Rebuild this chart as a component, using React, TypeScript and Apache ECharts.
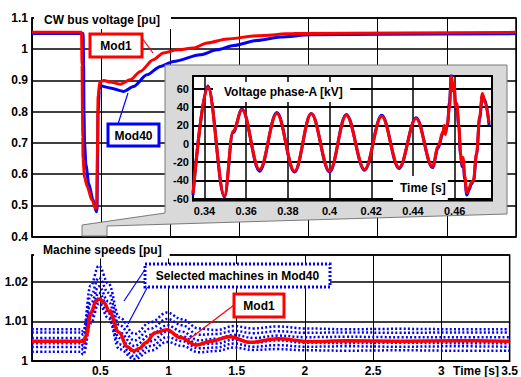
import React, { useEffect, useRef } from 'react';
import * as echarts from 'echarts';

// ---- CW bus voltage [pu] ----
const voltTimeMod1 = [0, 0.358, 0.362, 0.365, 0.367, 0.369, 0.38, 0.4, 0.433, 0.462, 0.468, 0.472, 0.478, 0.49, 0.52, 0.565, 0.638, 0.71, 0.783, 0.877, 0.949, 1.049, 1.167, 1.266, 1.411, 1.628, 1.891, 2.67, 3.5];
const voltMod1 = [1.054, 1.054, 0.95, 0.8, 0.72, 0.65, 0.59, 0.56, 0.518, 0.49, 0.5, 0.65, 0.85, 0.895, 0.9, 0.895, 0.888, 0.902, 0.929, 0.966, 0.988, 0.998, 1.004, 1.02, 1.033, 1.043, 1.05, 1.052, 1.054];
const voltTimeMod40 = [0, 0.37, 0.373, 0.376, 0.38, 0.39, 0.41, 0.44, 0.465, 0.47, 0.473, 0.478, 0.487, 0.493, 0.565, 0.662, 0.734, 0.831, 0.928, 1.024, 1.217, 1.338, 1.459, 1.628, 1.797, 2.014, 2.5, 3.5];
const voltMod40 = [1.05, 1.05, 0.95, 0.8, 0.7, 0.63, 0.57, 0.52, 0.48, 0.485, 0.6, 0.8, 0.87, 0.883, 0.876, 0.865, 0.881, 0.918, 0.945, 0.961, 0.982, 0.998, 1.012, 1.028, 1.039, 1.046, 1.048, 1.05];

// ---- Voltage phase-A [kV] (inset) ----
const phaseTime = [0.3345, 0.3416, 0.3496, 0.3537, 0.358, 0.3664, 0.3747, 0.3832, 0.3912, 0.4, 0.408, 0.4168, 0.425, 0.4333, 0.4415, 0.4494, 0.452, 0.4545, 0.455, 0.4555, 0.4565, 0.4575, 0.4584, 0.459, 0.4597, 0.4605, 0.461, 0.462, 0.4628, 0.4635, 0.464, 0.4648, 0.4658, 0.467, 0.468, 0.469, 0.4705, 0.472, 0.4733, 0.4745, 0.4765];
const phaseMod1 = [-54, 62, -57, 14, 37, -28, 33, -30, 33, -30, 31, -28, 30, -26, 27.5, -25, -3, 14, 20, 10, 22, 40, 74, 58, 66, 40, 44, 20, -10, -22, -15, -35, -53.5, -48, -42, -40, -10, 30, 55, 45, 23];
const phaseMod40 = [-56, 63, -58, 12, 38, -30, 34, -31, 33, -31, 32, -29, 31, -27, 28.5, -26, -5, 12, 18, 12, 20, 45, 76, 60, 64, 38, 42, 18, -12, -25, -18, -38, -56, -50, -44, -41, -12, 28, 53, 48, 20];
const phaseXTicks = [0.34, 0.36, 0.38, 0.4, 0.42, 0.44, 0.46];
const phaseYTicks = [-60, -40, -20, 0, 20, 40, 60];

// ---- Machine speeds [pu] ----
const speedTimeMod1 = [0, 0.365, 0.38, 0.396, 0.432, 0.469, 0.493, 0.53, 0.565, 0.638, 0.698, 0.746, 0.79, 0.831, 0.903, 0.988, 1.085, 1.205, 1.314, 1.45, 1.6, 1.8, 2.04, 2.3, 2.7, 3.1, 3.5];
const speedMod1 = [1.005, 1.005, 1.0048, 1.0063, 1.0121, 1.0152, 1.0156, 1.0147, 1.0125, 1.0072, 1.0036, 1.0025, 1.0032, 1.0046, 1.0071, 1.0079, 1.0059, 1.004, 1.005, 1.0061, 1.0047, 1.0056, 1.0049, 1.0051, 1.005, 1.0051, 1.005];
const speedTimeMod40 = [0, 0.36, 0.375, 0.43, 0.49, 0.56, 0.64, 0.75, 0.87, 0.99, 1.1, 1.22, 1.35, 1.48, 1.62, 1.8, 2.0, 2.3, 2.7, 3.1, 3.5];
const speedMod40A = [1.008, 1.008, 1.0075, 1.019, 1.024, 1.0195, 1.011, 1.0068, 1.0098, 1.0122, 1.0105, 1.0082, 1.0078, 1.0088, 1.0082, 1.0087, 1.0082, 1.008, 1.0081, 1.008, 1.008];
const speedMod40B = [1.0072, 1.0072, 1.0066, 1.0165, 1.021, 1.0172, 1.009, 1.0052, 1.0082, 1.0106, 1.009, 1.0066, 1.0068, 1.0076, 1.007, 1.0075, 1.0071, 1.0072, 1.0071, 1.0072, 1.0072];
const speedMod40C = [1.0058, 1.0058, 1.0052, 1.0145, 1.0188, 1.015, 1.0072, 1.0038, 1.0066, 1.009, 1.0074, 1.0052, 1.0056, 1.0066, 1.0058, 1.0064, 1.006, 1.0061, 1.006, 1.006, 1.006];
const speedMod40D = [1.0045, 1.0045, 1.0038, 1.0125, 1.0172, 1.0133, 1.0058, 1.0022, 1.005, 1.0074, 1.0062, 1.0042, 1.0044, 1.0054, 1.0046, 1.0052, 1.0046, 1.0045, 1.0046, 1.0045, 1.0045];
const speedMod40E = [1.0035, 1.0035, 1.0028, 1.0108, 1.0158, 1.012, 1.0042, 1.0012, 1.0038, 1.006, 1.005, 1.0032, 1.0034, 1.0044, 1.0036, 1.004, 1.0036, 1.0037, 1.0036, 1.0037, 1.0036];
const speedMod40F = [1.0023, 1.0023, 1.0016, 1.0095, 1.0145, 1.0108, 1.003, 1.0005, 1.0026, 1.0048, 1.0038, 1.0022, 1.0025, 1.0034, 1.0028, 1.003, 1.0027, 1.0026, 1.0027, 1.0026, 1.0026];
const speedMod40 = [speedMod40A, speedMod40B, speedMod40C, speedMod40D, speedMod40E, speedMod40F];

const FONT = '"Liberation Sans", Arial, sans-serif';
const RED = '#ff0000';
const BLUE = '#0000ff';

const zip = (t: number[], v: number[]) => t.map((x, i) => [x, v[i]]);

export default function App() {
  const ref = useRef<HTMLDivElement>(null);
  useEffect(() => {
    const chart = echarts.init(ref.current!, null, { renderer: 'svg' });
    const lbl = { color: '#000', fontFamily: FONT, fontWeight: 'bold' as const, fontSize: 12 };
    const lblSmall = { ...lbl, fontSize: 11 };
    const blackLine = (w: number) => ({ show: true, lineStyle: { color: '#000', width: w } });
    const text = (x: number, y: number, s: string, extra: any = {}, z = 30) => ({
      type: 'text', x, y, z,
      style: { text: s, font: `bold 12px ${FONT}`, fill: '#000', align: 'center', verticalAlign: 'middle', ...extra },
    });
    const box = (x: number, y: number, w: number, h: number, color: string, dash?: number[]) => ({
      type: 'rect', z: 29,
      shape: { x, y, width: w, height: h },
      style: { fill: '#fff', stroke: color, lineWidth: 3, lineDash: dash },
    });
    const line = (x1: number, y1: number, x2: number, y2: number, color: string) => ({
      type: 'line', z: 29,
      shape: { x1, y1, x2, y2 },
      style: { stroke: color, lineWidth: 1.2 },
    });

    const option: any = {
      animation: false,
      grid: [
        { left: 32, top: 18, width: 484, height: 218.7, show: true, borderColor: '#000', borderWidth: 1.5, backgroundColor: 'transparent' },
        { left: 32, top: 255, width: 484, height: 107.5, show: true, borderColor: '#000', borderWidth: 1.5, backgroundColor: 'transparent' },
        { left: 193, top: 76, width: 299, height: 124.5, show: true, borderColor: '#000', borderWidth: 2, backgroundColor: '#fff', z: 11 },
      ],
      xAxis: [
        {
          type: 'value', gridIndex: 0, min: 0, max: 3.5, interval: 0.5,
          axisLine: blackLine(1.5), axisTick: { show: false }, axisLabel: { show: false },
          splitLine: blackLine(1),
        },
        {
          type: 'value', gridIndex: 1, min: 0, max: 3.5, interval: 0.5,
          axisLine: blackLine(1.5), axisTick: { show: false },
          axisLabel: { ...lbl, margin: 4, showMinLabel: false },
          splitLine: blackLine(1),
        },
        {
          type: 'value', gridIndex: 2, min: 0.3345, max: 0.4779, z: 12,
          axisLine: blackLine(2), axisTick: { show: false, customValues: phaseXTicks },
          axisLabel: { ...lblSmall, margin: 5, customValues: phaseXTicks },
          splitLine: blackLine(1.5),
        },
      ],
      yAxis: [
        {
          type: 'value', gridIndex: 0, min: 0.4, max: 1.1, interval: 0.1,
          axisLine: blackLine(1.5), axisTick: { show: false },
          axisLabel: { ...lbl, margin: 4 },
          splitLine: blackLine(1.5),
        },
        {
          type: 'value', gridIndex: 1, min: 1, max: 1.0267, interval: 0.01,
          axisLine: blackLine(1.5), axisTick: { show: false },
          axisLabel: { ...lbl, margin: 4, showMaxLabel: false },
          splitLine: blackLine(1.5),
        },
        {
          type: 'value', gridIndex: 2, min: -62, max: 74, z: 12,
          axisLine: blackLine(2), axisTick: { show: false, customValues: phaseYTicks },
          axisLabel: { ...lblSmall, margin: 4, customValues: phaseYTicks },
          splitLine: blackLine(2),
        },
      ],
      series: [
        {
          type: 'line', xAxisIndex: 0, yAxisIndex: 0, data: zip(voltTimeMod40, voltMod40),
          showSymbol: false, smooth: 0.25, smoothMonotone: 'x', lineStyle: { color: BLUE, width: 3 }, z: 2,
        },
        {
          type: 'line', xAxisIndex: 0, yAxisIndex: 0, data: zip(voltTimeMod1, voltMod1),
          showSymbol: false, smooth: 0.25, smoothMonotone: 'x', lineStyle: { color: RED, width: 3 }, z: 3,
        },
        ...speedMod40.map((vals) => ({
          type: 'line', xAxisIndex: 1, yAxisIndex: 1, data: zip(speedTimeMod40, vals),
          showSymbol: false, smooth: 0.4, smoothMonotone: 'x',
          lineStyle: { color: BLUE, width: 2.5, type: [2, 2.2] }, z: 2,
        })),
        {
          type: 'line', xAxisIndex: 1, yAxisIndex: 1, data: zip(speedTimeMod1, speedMod1),
          showSymbol: false, smooth: 0.4, smoothMonotone: 'x', lineStyle: { color: RED, width: 3.5 }, z: 3,
        },
        {
          type: 'line', xAxisIndex: 2, yAxisIndex: 2, data: zip(phaseTime, phaseMod40),
          showSymbol: false, smooth: 0.36, smoothMonotone: 'x', lineStyle: { color: BLUE, width: 3 }, z: 13,
        },
        {
          type: 'line', xAxisIndex: 2, yAxisIndex: 2, data: zip(phaseTime, phaseMod1),
          showSymbol: false, smooth: 0.36, smoothMonotone: 'x', lineStyle: { color: RED, width: 3 }, z: 14,
        },
      ],
      graphic: {
        elements: [
          {
            type: 'polygon', z: 10,
            shape: { points: [[165, 65], [507, 65], [507, 214], [107, 226], [107, 236], [82, 236], [82, 225], [165, 213]] },
            style: { fill: '#d9d9d9', stroke: '#7a7a7a', lineWidth: 1 },
          },
          text(34, 20, 'CW bus voltage [pu]', { align: 'left', backgroundColor: '#fff', padding: [3, 11, 3, 10] }, 20),
          text(34, 249.5, 'Machine speeds [pu]', { align: 'left', backgroundColor: '#fff', padding: [3, 8, 3, 9] }, 20),
          text(213, 92, 'Voltage phase-A [kV]', { align: 'left', backgroundColor: '#fff', padding: [4, 7, 4, 11] }, 20),
          text(393, 188, 'Time [s]', { align: 'left', backgroundColor: '#fff', padding: [5, 2, 7, 7] }, 20),
          text(476, 371, 'Time [s]', {}, 20),
          // annotations
          line(142, 38, 153, 53, RED),
          box(90, 34, 52, 23, RED),
          text(116, 46, 'Mod1'),
          line(118, 124, 128, 93, BLUE),
          box(108, 124, 51, 22, BLUE),
          text(133.5, 135.5, 'Mod40'),
          line(146, 268, 124, 301, BLUE),
          line(148, 286, 128, 324, BLUE),
          box(145, 264, 185, 23, BLUE, [2, 2]),
          text(237.5, 276, 'Selected machines in Mod40'),
          line(234, 305, 188, 340, RED),
          box(234, 294, 50, 23, RED),
          text(259, 306, 'Mod1'),
        ],
      },
    };
    chart.setOption(option);
    return () => chart.dispose();
  }, []);
  return <div ref={ref} style={{ position: 'fixed', left: 0, top: 0, width: 521, height: 377, background: '#fff' }} />;
}
